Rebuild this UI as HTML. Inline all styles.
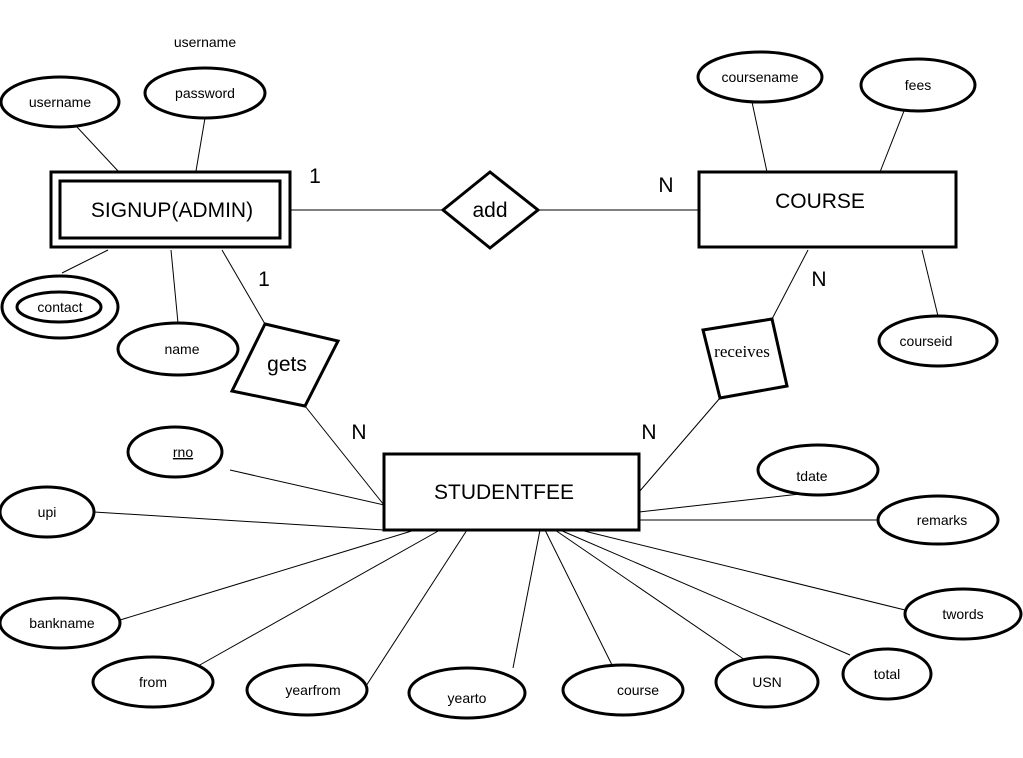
<!DOCTYPE html>
<html><head><style>body{margin:0;background:#fff}svg{display:block}</style></head><body>
<svg width="1023" height="758" xmlns="http://www.w3.org/2000/svg" font-family="Liberation Sans, DejaVu Sans, sans-serif">
<g stroke="#000" stroke-width="1" fill="none">
<line x1="77" y1="127" x2="118" y2="171"/><line x1="205" y1="118" x2="196" y2="171"/>
<line x1="108" y1="250" x2="62" y2="273"/><line x1="171" y1="250" x2="178" y2="323"/>
<line x1="222" y1="250" x2="265" y2="324"/>
<line x1="290" y1="210" x2="443" y2="210"/><line x1="538" y1="210" x2="699" y2="210"/>
<line x1="752" y1="102" x2="767" y2="172"/><line x1="904" y1="111" x2="880" y2="172"/>
<line x1="922" y1="250" x2="938" y2="316"/>
<line x1="808" y1="250" x2="772" y2="319"/><line x1="720" y1="398" x2="639" y2="492"/>
<line x1="305" y1="406" x2="384" y2="505"/>
<line x1="230" y1="470" x2="384" y2="505"/>
<line x1="94" y1="512" x2="384" y2="530"/>
<line x1="120" y1="620" x2="415" y2="530"/>
<line x1="198" y1="666" x2="440" y2="530"/>
<line x1="366" y1="686" x2="467" y2="530"/>
<line x1="513" y1="668" x2="540" y2="530"/>
<line x1="612" y1="665" x2="545" y2="530"/>
<line x1="745" y1="660" x2="555" y2="530"/>
<line x1="850" y1="655" x2="560" y2="530"/>
<line x1="905" y1="610" x2="580" y2="530"/>
<line x1="878" y1="520" x2="639" y2="520"/>
<line x1="800" y1="494" x2="639" y2="512"/>
</g>
<g stroke="#000" stroke-width="3" fill="#fff">
<rect x="51" y="172" width="239" height="75"/>
<rect x="60" y="181" width="220" height="57"/>
<rect x="699" y="172" width="257" height="75"/>
<rect x="384" y="454" width="255" height="76"/>
<polygon points="443,210 490,172 538,210 490,248"/>
<polygon points="265,324 338,341 305,406 232,391"/>
<polygon points="703,330 772,319 787,386 720,398"/>
<ellipse cx="60" cy="102" rx="59" ry="25"/>
<ellipse cx="205" cy="93" rx="60" ry="25"/>
<ellipse cx="760" cy="77" rx="62" ry="25"/>
<ellipse cx="918" cy="85" rx="57" ry="26"/>
<ellipse cx="938" cy="341" rx="59" ry="25"/>
<ellipse cx="60" cy="307" rx="58" ry="31"/>
<ellipse cx="59" cy="307" rx="42" ry="15"/>
<ellipse cx="178" cy="349" rx="60" ry="26"/>
<ellipse cx="175" cy="452" rx="47" ry="25"/>
<ellipse cx="47" cy="512" rx="47" ry="25"/>
<ellipse cx="60" cy="623" rx="60" ry="25"/>
<ellipse cx="153" cy="682" rx="60" ry="25"/>
<ellipse cx="307" cy="690" rx="60" ry="25"/>
<ellipse cx="467" cy="693" rx="58" ry="25"/>
<ellipse cx="623" cy="690" rx="60" ry="25"/>
<ellipse cx="767" cy="682" rx="51" ry="25"/>
<ellipse cx="887" cy="674" rx="44" ry="25"/>
<ellipse cx="963" cy="614" rx="58" ry="25"/>
<ellipse cx="938" cy="520" rx="60" ry="24"/>
<ellipse cx="818" cy="470" rx="60" ry="25"/>
</g>
<g font-size="14" text-anchor="middle" fill="#000">
<text x="205" y="47">username</text>
<text x="60" y="107">username</text><text x="205" y="98">password</text>
<text x="760" y="82">coursename</text><text x="918" y="90">fees</text>
<text x="926" y="346">courseid</text><text x="60" y="312">contact</text>
<text x="182" y="354">name</text><text x="183" y="457" text-decoration="underline">rno</text>
<text x="47" y="517">upi</text><text x="62" y="628">bankname</text>
<text x="153" y="687">from</text><text x="313" y="695">yearfrom</text>
<text x="467" y="703">yearto</text><text x="638" y="695">course</text>
<text x="767" y="687">USN</text><text x="887" y="679">total</text>
<text x="963" y="619">twords</text><text x="942" y="525">remarks</text>
<text x="812" y="481">tdate</text>
</g>
<g font-size="21" text-anchor="middle" fill="#000">
<text x="172" y="217">SIGNUP(ADMIN)</text>
<text x="820" y="208">COURSE</text>
<text x="504" y="499">STUDENTFEE</text>
<text x="490" y="217">add</text>
<text x="287" y="371">gets</text>
<text x="315" y="183">1</text><text x="264" y="286">1</text>
<text x="666" y="192">N</text><text x="819" y="286">N</text>
<text x="359" y="439">N</text><text x="649" y="439">N</text>
</g>
<text x="742" y="357" font-size="17" text-anchor="middle" font-family="Liberation Serif, serif">receives</text>
</svg>
</body></html>
